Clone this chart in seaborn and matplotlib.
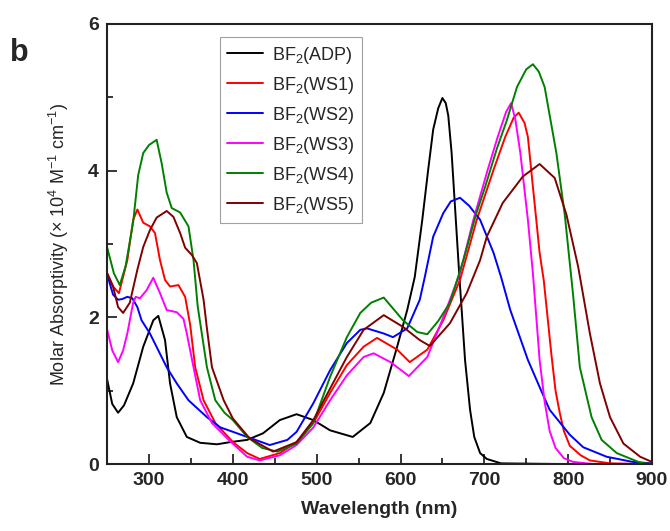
import matplotlib
matplotlib.use("Agg")
import matplotlib.pyplot as plt
import pandas as pd
import seaborn as sns
from matplotlib.ticker import MultipleLocator

# Data (wavelength in nm, absorptivity in 1e4 M-1 cm-1)
adp_x = [250, 256, 263, 270, 281, 293, 305, 311, 319, 325, 333, 345, 361, 381, 397, 417, 436, 456, 476,
         496, 516, 543, 564, 580, 596, 608, 617, 626, 633, 639, 645, 650, 654, 657, 661, 666, 670, 673,
         677, 683, 688, 695, 703, 720, 800, 900]
adp_y = [1.15, 0.82, 0.70, 0.80, 1.10, 1.60, 1.96, 2.02, 1.69, 1.10, 0.64, 0.37, 0.29, 0.27, 0.30, 0.33,
         0.42, 0.60, 0.68, 0.60, 0.46, 0.37, 0.56, 0.97, 1.60, 2.10, 2.55, 3.33, 4.01, 4.56, 4.85, 4.99,
         4.92, 4.75, 4.24, 3.33, 2.60, 2.10, 1.42, 0.74, 0.37, 0.15, 0.07, 0.01, 0.0, 0.0]

ws1_x = [250, 257, 264, 274, 281, 286, 293, 301, 307, 313, 319, 325, 335, 343, 349, 355, 365, 379, 400,
         417, 432, 456, 476, 496, 516, 536, 556, 572, 596, 611, 632, 651, 671, 691, 711, 725, 735, 741,
         748, 752, 758, 766, 771, 780, 785, 790, 795, 802, 815, 826, 850, 900]
ws1_y = [2.60, 2.42, 2.33, 2.78, 3.33, 3.47, 3.29, 3.24, 3.15, 2.78, 2.51, 2.42, 2.44, 2.28, 1.90, 1.32,
         0.87, 0.56, 0.30, 0.15, 0.07, 0.15, 0.30, 0.56, 0.97, 1.35, 1.60, 1.72, 1.56, 1.39, 1.56, 1.96,
         2.51, 3.33, 4.01, 4.46, 4.72, 4.79, 4.65, 4.46, 3.78, 2.88, 2.50, 1.50, 1.00, 0.70, 0.45, 0.25,
         0.12, 0.05, 0.01, 0.0]

ws2_x = [250, 257, 263, 268, 274, 280, 286, 291, 301, 321, 333, 347, 369, 385, 400, 417, 444, 465, 476,
         496, 516, 536, 552, 560, 580, 591, 608, 623, 629, 639, 651, 660, 671, 682, 695, 711, 720, 731,
         752, 766, 778, 802, 818, 846, 877, 900]
ws2_y = [2.58, 2.31, 2.24, 2.25, 2.28, 2.26, 2.14, 1.96, 1.78, 1.32, 1.10, 0.87, 0.64, 0.50, 0.44, 0.37,
         0.26, 0.33, 0.44, 0.83, 1.28, 1.65, 1.83, 1.85, 1.78, 1.73, 1.85, 2.24, 2.55, 3.10, 3.42, 3.58,
         3.63, 3.52, 3.33, 2.88, 2.55, 2.10, 1.42, 1.05, 0.74, 0.40, 0.23, 0.10, 0.03, 0.01]

ws3_x = [250, 256, 263, 269, 274, 281, 284, 289, 297, 305, 313, 321, 333, 341, 345, 353, 361, 375, 395,
         417, 432, 456, 476, 496, 516, 536, 556, 568, 588, 610, 632, 651, 671, 687, 704, 716, 726, 732,
         737, 743, 752, 758, 766, 772, 778, 785, 795, 806, 830, 900]
ws3_y = [1.83, 1.55, 1.39, 1.55, 1.78, 2.20, 2.28, 2.26, 2.37, 2.54, 2.33, 2.10, 2.07, 1.98, 1.78, 1.32,
         0.87, 0.56, 0.33, 0.10, 0.05, 0.12, 0.26, 0.50, 0.87, 1.21, 1.46, 1.51, 1.39, 1.20, 1.46, 2.00,
         2.60, 3.33, 4.01, 4.46, 4.80, 4.92, 4.70, 4.24, 3.33, 2.60, 1.42, 0.85, 0.45, 0.22, 0.08, 0.03,
         0.0, 0.0]

ws4_x = [250, 258, 265, 272, 281, 287, 293, 300, 309, 315, 321, 327, 337, 347, 353, 358, 369, 379, 390,
         400, 417, 435, 453, 476, 496, 516, 536, 552, 565, 580, 603, 620, 632, 645, 659, 675, 690, 701,
         715, 727, 739, 750, 758, 765, 772, 786, 796, 806, 814, 828, 840, 858, 886, 900]
ws4_y = [2.95, 2.60, 2.44, 2.70, 3.30, 3.94, 4.24, 4.35, 4.42, 4.10, 3.70, 3.49, 3.43, 3.24, 2.78, 2.15,
         1.32, 0.87, 0.70, 0.60, 0.37, 0.22, 0.17, 0.28, 0.56, 1.19, 1.73, 2.06, 2.20, 2.27, 1.96, 1.80,
         1.77, 1.95, 2.20, 2.78, 3.40, 3.78, 4.30, 4.69, 5.14, 5.38, 5.45, 5.35, 5.14, 4.24, 3.40, 2.30,
         1.32, 0.64, 0.33, 0.15, 0.02, 0.0]

ws5_x = [250, 257, 263, 269, 277, 286, 293, 301, 309, 321, 329, 337, 343, 351, 357, 365, 369, 375, 389,
         400, 420, 448, 476, 496, 516, 536, 556, 580, 603, 623, 635, 659, 679, 695, 703, 722, 746, 766,
         784, 798, 812, 826, 838, 850, 866, 886, 900]
ws5_y = [2.60, 2.42, 2.14, 2.06, 2.20, 2.65, 2.96, 3.19, 3.36, 3.45, 3.37, 3.15, 2.95, 2.85, 2.74, 2.24,
         1.85, 1.32, 0.87, 0.62, 0.35, 0.17, 0.30, 0.60, 1.03, 1.46, 1.83, 2.03, 1.87, 1.69, 1.61, 1.92,
         2.33, 2.78, 3.10, 3.56, 3.92, 4.09, 3.90, 3.40, 2.69, 1.78, 1.10, 0.64, 0.28, 0.10, 0.03]

names = ["BF$_2$(ADP)", "BF$_2$(WS1)", "BF$_2$(WS2)", "BF$_2$(WS3)", "BF$_2$(WS4)", "BF$_2$(WS5)"]
colors = ["#000000", "#ff0000", "#0000ff", "#ff00ff", "#008000", "#800000"]

xs = [adp_x, ws1_x, ws2_x, ws3_x, ws4_x, ws5_x]
ys = [adp_y, ws1_y, ws2_y, ws3_y, ws4_y, ws5_y]
frames = []
for n, x, y in zip(names, xs, ys):
    frames.append(pd.DataFrame({"wl": x, "abs": y, "dye": n}))
df = pd.concat(frames, ignore_index=True)

sns.set_style("ticks")
plt.rcParams["font.family"] = ["Liberation Sans", "DejaVu Sans"]
plt.rcParams["mathtext.fontset"] = "custom"
plt.rcParams["mathtext.rm"] = "Liberation Sans"
plt.rcParams["mathtext.it"] = "Liberation Sans:italic"
plt.rcParams["mathtext.bf"] = "Liberation Sans:bold"

fig = plt.figure(figsize=(6.7, 5.31), dpi=100)
ax = fig.add_axes([0.16, 0.126, 0.813, 0.829])

sns.lineplot(data=df, x="wl", y="abs", hue="dye", palette=dict(zip(names, colors)),
             estimator=None, sort=False, linewidth=1.4, ax=ax)

ax.set_xlim(250, 900)
ax.set_ylim(0, 6)
ax.xaxis.set_major_locator(MultipleLocator(100))
ax.xaxis.set_minor_locator(MultipleLocator(50))
ax.yaxis.set_major_locator(MultipleLocator(2))
ax.yaxis.set_minor_locator(MultipleLocator(1))
ax.tick_params(which="major", direction="in", length=7, width=1.3, labelsize=14, pad=6)
ax.tick_params(which="minor", direction="in", length=4, width=1.3)
for lab in ax.get_xticklabels() + ax.get_yticklabels():
    lab.set_fontweight("bold")
for s in ax.spines.values():
    s.set_linewidth(1.5)
    s.set_color("#222222")

ax.set_xlabel("Wavelength (nm)", fontsize=14, fontweight="bold", labelpad=8)
ax.set_ylabel("Molar Absorptivity (× 10$^4$ M$^{-1}$ cm$^{-1}$)", fontsize=13, labelpad=12)

leg = ax.legend(loc="upper left", bbox_to_anchor=(0.19, 0.99), fontsize=13, frameon=True,
                fancybox=False, edgecolor="#888888", handlelength=2.0, labelspacing=0.5,
                borderpad=0.4, handletextpad=0.5)
leg.get_frame().set_linewidth(0.8)

fig.text(0.015, 0.885, "b", fontsize=22, fontweight="bold")

fig.savefig("out.png", dpi=100)
